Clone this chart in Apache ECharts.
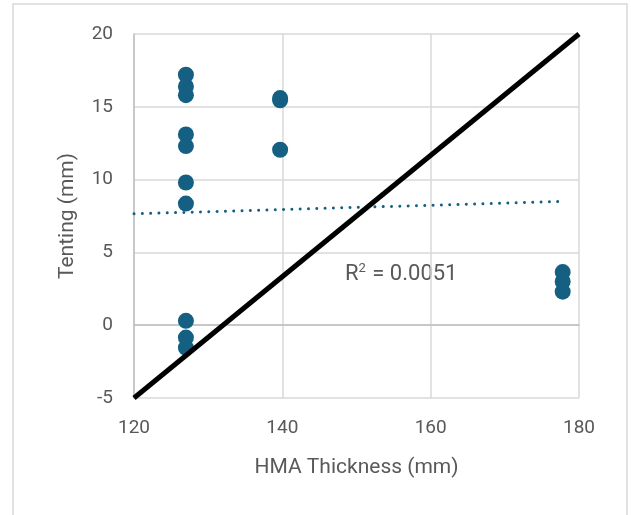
<!DOCTYPE html>
<html><head><meta charset="utf-8">
<script src="https://cdn.jsdelivr.net/npm/echarts@6/dist/echarts.min.js"></script>
<style>html,body{margin:0;padding:0;background:#fff}#c{width:631px;height:515px}</style>
</head><body><div id="c"></div>
<script>
// Data
const thicknessX = [127,127,127,127,127,127,127,127,127,127,139.7,139.7,139.7,177.8,177.8,177.8];
const tentingY   = [17.2,16.4,15.8,13.1,12.3,9.8,8.35,0.3,-0.85,-1.55,15.6,15.45,12.05,3.65,3.0,2.3];
const trendX = [120, 177.8];
const trendY = [7.65, 8.5];
const refX = [120, 180];
const refY = [-5, 20];
const xTicks = [120,140,160,180];
const yTicks = [-5,0,5,10,15,20];
const r2Text = '0.0051';

const font = 'Roboto, "Open Sans", sans-serif';
const grey = '#595959';
const chart = echarts.init(document.getElementById('c'));
chart.setOption({
  animation:false,
  grid:{left:134, top:34, width:445, height:364},
  graphic:[
    {type:'rect', shape:{x:13, y:4, width:614, height:520}, style:{fill:'none', stroke:'#d9d9d9', lineWidth:1.5}, z:-10},
    {type:'text', left:345, top:262, style:{
      fontSize:22, fontFamily:font, fill:grey,
      rich:{n:{fontSize:22, fill:grey, fontFamily:font}, s:{fontSize:13, fill:grey, fontFamily:font, verticalAlign:'top', padding:[0,1,11,0]}},
      text:'{n|R}{s|2}{n| = ' + r2Text + '}'
    }}
  ],
  xAxis:{type:'value', min:xTicks[0], max:xTicks[xTicks.length-1], interval:20,
    name:'HMA Thickness (mm)', nameLocation:'middle', nameGap:59,
    nameTextStyle:{fontSize:21, color:grey, fontFamily:font},
    axisLine:{show:true, lineStyle:{color:'#bfbfbf', width:1.5}}, axisTick:{show:false},
    axisLabel:{fontSize:19, color:grey, fontFamily:font, margin:21},
    splitLine:{show:true, lineStyle:{color:'#d9d9d9', width:1.5}}},
  yAxis:{type:'value', min:yTicks[0], max:yTicks[yTicks.length-1], interval:5,
    name:'Tenting (mm)', nameLocation:'middle', nameGap:56,
    nameTextStyle:{fontSize:21, color:grey, fontFamily:font},
    axisLine:{show:true, lineStyle:{color:'#bfbfbf', width:1.5}}, axisTick:{show:false},
    axisLabel:{fontSize:19, color:grey, fontFamily:font, margin:21},
    splitLine:{show:true, lineStyle:{color:'#d9d9d9', width:1.5}}},
  series:[
    {type:'scatter', data:thicknessX.map((x,i)=>[x,tentingY[i]]), symbolSize:16,
      itemStyle:{color:'#156082', opacity:1}, z:3},
    {type:'line', data:trendX.map((x,i)=>[x,trendY[i]]), symbol:'none',
      lineStyle:{color:'#156082', width:3, type:[0.01,8.3], cap:'round'}, z:2},
    {type:'line', data:refX.map((x,i)=>[x,refY[i]]), symbol:'none',
      lineStyle:{color:'#000', width:5}, z:4}
  ]
});
</script></body></html>
